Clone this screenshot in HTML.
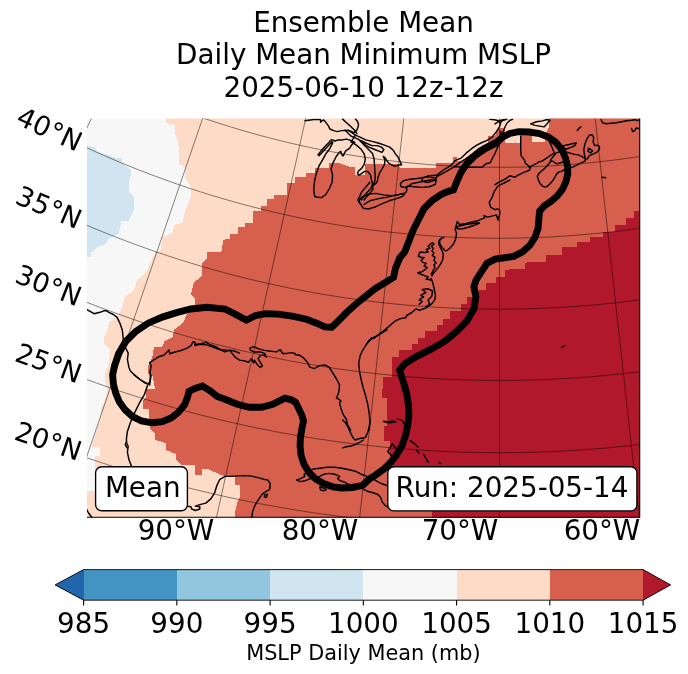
<!DOCTYPE html>
<html lang="en"><head><meta charset="utf-8"><title>Ensemble Mean - Daily Mean Minimum MSLP</title>
<style>html,body{margin:0;padding:0;background:#fff}body{width:688px;height:674px;overflow:hidden}svg{display:block;will-change:transform}text{font-family:"DejaVu Sans","Liberation Sans",sans-serif;fill:#000}</style></head><body>
<svg width="688" height="674" viewBox="0 0 688 674">
<rect width="688" height="674" fill="#fff"/>
<defs><clipPath id="mapclip"><rect x="87.0" y="118.5" width="553.0" height="399.0"/></clipPath></defs>
<g clip-path="url(#mapclip)">
<rect x="87.0" y="118.5" width="553.0" height="399.0" fill="#f7f7f7"/>
<path d="M85.0 144.7 L95.2 147.6 L97.2 151.6 L117.6 158.4 L122.1 158.4 L122.1 162.8 L130.6 169.9 L130.6 176.0 L128.8 182.2 L128.8 191.3 L134.3 196.4 L133.6 202.5 L133.6 210.6 L128.8 220.8 L121.6 220.8 L118.6 234.0 L109.4 238.1 L105.3 244.2 L97.2 247.3 L93.1 252.0 L90.9 252.0 L90.9 256.6 L87.0 256.8 L85.0 256.8 Z" fill="#d1e5f0" shape-rendering="crispEdges"/>
<path d="M165.4 113.5 L165.9 118.5 L165.9 123.1 L175.0 125.2 L175.0 133.3 L178.1 141.5 L178.9 150.6 L178.9 163.8 L184.5 166.9 L184.5 176.0 L190.8 187.2 L190.8 196.4 L187.8 204.5 L184.7 212.7 L182.7 222.8 L174.5 224.9 L172.5 233.0 L162.3 237.1 L160.3 252.0 L155.2 252.0 L150.1 264.2 L146.0 272.3 L136.9 280.5 L133.8 289.6 L124.7 297.8 L121.6 308.0 L118.6 315.1 L109.4 322.2 L107.4 329.3 L103.8 337.5 L103.8 343.6 L110.4 349.7 L108.4 366.0 L104.8 374.1 L104.8 382.2 L107.4 388.9 L107.4 389.0 L105.0 400.0 L101.2 408.0 L101.2 415.0 L99.0 422.0 L97.0 429.0 L94.5 438.0 L92.2 444.5 L92.2 447.0 L99.6 447.0 L99.6 456.0 L94.8 456.0 L94.8 491.0 L80.0 491.0 L82.0 522.5 L645.0 522.5 L645.0 113.5 Z" fill="#fddbc7" shape-rendering="crispEdges"/>
<path d="M234.7 519.2 L234.7 513.1 L237.2 503.0 L240.3 496.8 L240.3 485.1 L234.5 485.1 L234.5 476.5 L225.0 476.5 L225.0 476.5 L207.1 468.9 L201.5 468.9 L201.5 475.0 L195.4 475.0 L195.4 464.8 L181.7 464.8 L176.1 459.2 L176.1 454.1 L165.9 450.0 L165.9 442.9 L154.7 439.9 L154.7 432.8 L149.6 427.7 L148.8 416.5 L148.8 408.8 L143.0 408.8 L143.0 401.2 L146.0 397.1 L146.0 389.0 L155.2 389.0 L152.2 374.1 L148.1 374.1 L148.1 366.0 L152.2 357.8 L154.2 346.6 L162.3 346.6 L164.4 341.5 L172.5 337.5 L174.5 329.3 L182.7 323.2 L186.7 315.1 L195.4 305.3 L195.4 298.8 L190.8 294.7 L193.9 282.5 L201.5 276.4 L201.5 264.2 L207.1 258.1 L207.1 252.0 L221.3 252.0 L223.4 240.1 L225.0 240.1 L225.0 239.1 L229.6 239.1 L229.6 233.5 L237.7 233.5 L237.7 227.4 L245.3 227.4 L245.3 223.4 L253.0 223.4 L253.0 211.1 L261.1 211.1 L261.1 206.1 L267.2 206.1 L267.2 199.4 L274.3 199.4 L274.3 194.9 L286.6 194.9 L286.6 183.2 L294.7 183.2 L294.7 177.1 L306.4 177.1 L306.4 173.0 L315.0 173.0 L315.0 167.9 L329.3 167.9 L329.3 163.3 L339.0 163.3 L351.2 167.4 L355.2 167.4 L355.2 174.5 L359.3 174.8 L365.0 174.8 L365.0 164.3 L397.6 164.3 L399.6 167.6 L435.7 167.6 L435.7 162.5 L452.7 162.5 L452.7 156.7 L456.8 156.7 L456.8 160.8 L461.7 160.8 L474.9 151.1 L482.0 151.1 L482.0 145.0 L488.1 145.0 L488.1 135.9 L495.2 135.9 L497.3 129.2 L505.0 127.2 L505.0 143.1 L520.3 143.1 L520.3 135.3 L531.5 135.3 L531.5 141.5 L544.7 141.5 L544.7 135.3 L548.8 127.2 L548.8 118.5 L548.8 114.2 L645.0 114.2 L645.0 522.5 L234.2 522.5 Z" fill="#d6604d" shape-rendering="crispEdges"/>
<path d="M432.2 519.2 L432.2 511.1 L390.4 511.1 L389.9 462.3 L389.9 441.4 L384.3 441.4 L384.3 426.1 L386.9 426.1 L386.9 397.6 L382.3 397.6 L382.3 389.0 L383.3 388.9 L383.3 376.6 L392.0 376.6 L392.0 357.3 L399.1 357.3 L399.1 350.2 L412.3 350.2 L412.3 343.6 L418.4 343.6 L418.4 337.5 L424.5 337.5 L424.5 330.9 L436.7 330.9 L436.7 324.7 L443.3 324.7 L443.3 318.6 L450.0 318.6 L450.0 311.5 L456.6 310.8 L461.1 310.8 L461.1 304.4 L467.3 304.4 L467.3 297.3 L471.8 297.3 L479.0 290.2 L485.6 290.2 L485.6 283.0 L495.7 283.0 L495.7 276.9 L505.0 276.9 L505.0 270.3 L508.1 270.3 L509.1 268.8 L524.8 268.8 L524.8 262.7 L535.5 261.9 L546.2 261.9 L546.2 254.5 L561.5 254.5 L561.5 252.0 L562.0 251.9 L562.0 247.1 L576.7 247.1 L576.7 241.7 L590.0 241.7 L590.0 236.8 L603.2 236.8 L603.2 231.5 L615.4 231.5 L615.4 225.4 L625.6 225.4 L625.6 218.3 L633.7 218.3 L633.7 210.6 L645.0 210.6 L645.0 522.5 Z" fill="#b2182b" shape-rendering="crispEdges"/>
<g fill="none" stroke="#000" stroke-width="1.45" stroke-linejoin="round" stroke-linecap="round">
<path d="M305.0 120.7 L310.2 120.0 L315.4 119.4 L318.5 119.4 L320.6 119.7 L320.6 122.3 L322.1 120.7 L323.7 120.0 L325.8 122.3 L328.4 125.9 L329.9 129.0 L333.6 130.6 L337.2 131.6 L341.4 130.6 L346.5 130.4 L350.7 131.1 L353.8 132.7 L356.4 130.6 L358.0 127.5 L358.5 124.3 L357.4 121.2 L355.4 118.9"/>
<path d="M342.4 118.9 L346.5 122.8 L350.7 126.4 L354.9 130.6 L356.9 133.7"/>
<path d="M354.9 142.5 L350.7 140.4 L346.5 139.1 L342.4 139.9 L338.2 139.9 L335.1 141.0 L332.5 139.9 L331.0 139.9 L328.9 142.5 L324.7 146.7 L320.6 151.4 L318.0 155.0 L319.0 155.7 L321.6 152.9 L325.8 148.4 L329.9 144.1 L331.8 141.8 L332.8 142.2 L331.5 145.1 L329.4 149.3 L325.8 153.9 L322.7 159.7 L319.0 165.9 L316.4 173.2 L314.9 179.4 L314.1 185.0 L313.8 190.8 L314.7 196.5 L316.9 197.0 L321.4 197.6 L325.8 194.5 L329.4 188.5 L332.2 182.0 L332.5 174.7 L331.0 169.0 L333.0 162.8 L336.2 156.5 L337.7 154.5 L339.3 152.4 L340.8 151.4 L341.4 153.9 L342.9 156.0 L343.9 154.5 L345.0 151.9 L346.5 150.3 L349.7 148.2 L350.7 146.2 L352.3 144.1 Z"/>
<path d="M351.2 141.9 L356.4 145.1 L360.6 148.7 L364.2 153.9 L365.3 159.1 L364.2 164.3 L361.6 168.4 L358.5 171.0 L357.5 173.6 L359.0 175.2 L361.6 173.6 L364.2 171.5 L367.8 171.5 L370.4 174.7 L371.5 179.9 L372.5 184.0 L371.0 188.2 L367.3 192.3 L363.7 196.5 L361.6 200.0"/>
<path d="M345.0 130.0 L351.2 136.2 L358.5 139.3 L362.7 143.5 L367.8 148.7 L372.5 153.4 L374.1 159.1 L374.6 166.4 L375.1 174.7 L375.1 179.9 L374.1 183.0 L372.5 185.0"/>
<path d="M383.4 156.5 L385.0 160.1 L384.5 164.3 L382.4 168.4 L379.8 172.6 L378.2 176.7 L377.2 181.9 L374.1 185.0 L372.5 185.0 L373.0 189.2 L369.9 193.4 L365.8 197.5 L364.2 200.0"/>
<path d="M355.4 135.2 L360.6 137.3 L365.8 139.9 L372.0 141.4 L378.2 143.0 L384.5 145.1 L389.7 147.1 L393.3 150.3 L395.4 153.9 L398.0 157.0 L400.0 161.2 L401.6 164.8 L398.0 165.3 L394.9 166.4 L391.7 164.8 L388.6 163.2 L386.5 160.1 L385.0 157.5 L383.4 156.5"/>
<path d="M360.6 140.4 L365.8 143.0 L372.0 145.6 L377.2 145.6 L381.4 147.1 L383.9 149.7 L381.9 152.3 L378.2 150.8 L374.1 149.2 L368.9 147.1 L364.7 144.5 Z"/>
<path d="M351.2 141.9 L355.4 135.2 L351.2 132.1 L348.1 130.0"/>
<path d="M360.9 204.5 L358.7 201.5 L361.7 197.1 L368.4 194.1 L375.8 193.4 L383.2 194.9 L391.4 195.6 L398.0 194.9 L403.2 193.4 L404.3 194.4 L402.5 196.4 L396.5 198.6 L389.1 200.8 L381.7 203.8 L375.8 206.7 L368.4 209.0 L363.2 208.2 Z"/>
<path d="M363.9 204.5 L369.8 200.8 L378.7 198.6 L387.6 197.1 L399.5 194.4 L404.0 193.8 L406.2 191.9 L406.9 189.7 L406.2 188.2 L411.4 183.7 L418.8 182.3 L426.2 180.8 L433.6 179.3"/>
<path d="M401.0 186.7 L400.3 183.7 L403.2 180.8 L409.9 179.3 L417.3 178.5 L424.7 177.1 L430.7 177.1 L435.1 177.8 L436.3 180.0 L435.1 184.5 L429.2 186.7 L421.8 187.4 L414.3 186.7 L407.7 186.0 L405.4 187.4 Z"/>
<path d="M360.9 204.5 L358.0 200.1 L361.7 191.9 L366.1 186.7 L369.8 182.3"/>
<path d="M436.9 175.1 L443.6 169.9 L451.0 165.4 L455.0 160.7 L461.2 158.1 L466.4 152.9 L471.6 148.7 L476.8 145.1 L482.0 142.5 L487.2 140.4 L492.4 136.8 L496.5 131.6 L499.7 126.4 L500.7 122.8 L498.6 120.7 L494.5 119.7 L489.8 119.4"/>
<path d="M436.9 176.6 L445.1 172.1 L454.0 166.8 L461.4 161.6 L465.8 158.8 L471.8 154.3 L479.2 148.4 L485.9 144.7 L492.0 141.5 L497.0 139.0 L500.7 136.8 L502.8 132.7 L504.8 127.5 L506.9 123.3 L510.0 120.2 L512.6 119.4"/>
<path d="M499.7 122.8 L503.3 120.2 L505.9 119.4"/>
<path d="M454.0 166.9 L470.3 167.2 L482.2 167.2 L485.9 163.7 L490.3 162.8 L492.5 158.0 L494.8 153.9 L497.0 148.4 L500.0 143.2 L501.4 137.3 L500.7 131.3"/>
<path d="M422.8 178.1 L428.7 175.8 L436.9 175.1 L436.9 176.6 L434.7 180.3 L427.3 182.5 L421.3 181.0 Z"/>
<path d="M583.8 149.3 L584.9 144.1 L586.9 138.9 L589.5 135.2 L592.1 134.7 L593.7 137.3 L593.2 142.0 L594.7 145.6 L597.3 145.1 L599.4 146.7 L599.4 149.3 L597.3 151.9 L593.7 153.9 L590.6 155.0 L588.5 156.5 L587.5 159.1 L585.4 158.6 L584.3 154.5 Z"/>
<path d="M588.5 148.2 L592.7 150.8 L590.6 152.9 L588.0 151.4 Z"/>
<path d="M530.6 123.9 L536.5 121.7 L542.5 120.9 L546.9 119.5 L549.9 120.2 L546.9 123.9 L544.0 126.9 L539.5 126.1 L535.1 125.4 Z"/>
<path d="M495.0 123.9 L500.9 120.2 L506.9 119.2"/>
<path d="M577.3 130.6 L578.8 128.4 L581.1 126.9"/>
<path d="M601.0 119.7 L602.5 122.8 L606.2 123.8 L611.3 123.3 L616.5 122.8 L621.7 121.7 L626.9 120.7 L631.6 120.2 L635.2 119.7 L637.3 120.7 L639.4 119.7"/>
<path d="M631.6 128.5 L632.6 131.6 L634.7 130.6 L636.3 128.0 L638.3 128.5"/>
<path d="M602.2 177.3 L605.7 177.7"/>
<path d="M510.0 180.0 L504.0 183.0 L498.1 185.9 L494.4 191.1 L492.2 197.1 L489.2 202.3 L490.7 207.4 L495.1 209.7 L497.3 208.9 L499.6 209.7 L499.9 213.4 L498.8 217.1 L498.1 220.1 L497.3 217.8 L496.3 214.9 L493.6 215.6 L490.7 216.4 L487.7 217.1 L484.0 215.6 L484.7 217.8 L481.0 219.3 L477.3 220.8 L471.4 222.3 L465.4 223.8 L459.5 224.5 L457.3 221.5 L456.5 224.5 L455.1 229.0 L456.5 233.4 L455.8 238.6 L453.6 243.8 L449.9 248.2 L446.9 250.5"/>
<path d="M459.5 226.0 L465.4 224.5 L471.4 223.8 L477.3 222.7 L479.5 223.0 L474.3 225.3 L468.4 227.2 L462.5 228.7 L458.0 229.0 L455.8 227.5 Z"/>
<path d="M365.8 345.0 L369.5 340.0 L371.7 337.7 L373.9 338.5 L379.1 334.0 L385.1 329.6 L389.5 325.9 L395.4 320.7 L401.4 318.4 L405.8 317.7 L406.6 315.5 L411.8 312.5 L416.2 308.8 L419.2 310.3 L423.6 308.8 L427.3 307.3 L431.8 303.6 L434.8 299.9 L435.5 295.4 L434.0 288.0 L432.5 282.1 L431.1 278.4"/>
<path d="M419.2 304.3 L422.2 301.4 L419.2 299.9 L423.6 296.9 L420.7 295.4 L425.9 292.5 L422.2 289.5 L428.1 288.8 L432.5 291.0 L431.8 296.2 L428.1 299.9 L429.6 304.3 L425.9 306.6"/>
<path d="M387.0 330.0 L379.6 334.5 L372.2 338.2 L367.7 342.6 L363.2 349.3 L360.3 355.2 L358.8 362.6 L359.5 371.5 L361.0 379.0 L363.2 387.9 L365.5 395.3 L367.7 404.2 L369.2 413.1 L369.9 422.0 L369.2 430.0"/>
<path d="M295.0 354.5 L299.5 355.2 L303.9 358.2 L307.6 362.6 L309.8 367.1 L314.3 368.6 L319.5 365.6 L324.7 364.9 L329.1 367.1 L332.8 373.0 L336.5 379.0 L339.5 384.9 L338.8 392.3 L336.5 398.2 L339.5 399.7 L341.0 401.2 L339.5 402.7 L341.0 408.6 L343.2 414.6 L346.2 419.0 L347.7 425.0 L350.6 430.0"/>
<path d="M342.7 420.0 L345.6 423.0 L348.6 428.2 L350.8 433.4 L353.1 437.8 L355.3 440.0 L359.7 438.5 L364.2 437.8 L365.7 437.1 L367.9 431.9 L369.4 425.9 L370.1 420.0"/>
<path d="M363.4 440.0 L359.7 442.3 L355.3 444.5 L350.8 446.0 L346.4 446.7 L342.7 447.9"/>
<path d="M296.7 480.1 L300.4 478.6 L304.8 476.4 L304.1 474.2 L307.8 471.2 L313.7 469.0 L319.7 468.2 L327.1 467.2 L334.5 467.2 L341.9 468.2 L349.3 469.7 L355.3 471.2 L361.2 474.2 L367.2 476.4 L371.6 477.9 L377.5 481.6 L382.0 483.8 L386.4 485.3 L393.9 487.5"/>
<path d="M296.7 480.1 L300.4 481.6 L304.8 480.8 L308.5 479.3 L313.7 477.9 L319.7 476.4 L324.1 474.2 L328.6 473.4 L334.5 474.2 L339.7 476.4 L337.5 478.6 L340.4 480.8 L344.9 482.3 L347.1 483.8 L353.8 486.0 L361.2 488.2 L367.2 491.2 L373.1 492.7 L377.5 494.2 L380.5 497.2 L382.0 501.6 L385.0 505.3 L388.7 507.5 L393.9 509.0"/>
<path d="M319.7 486.8 L324.1 488.2 L326.4 489.7 L323.4 490.9 L320.4 489.7 Z"/>
<path d="M383.4 421.4 L387.8 422.8 L392.3 420.6 L396.0 422.1"/>
<path d="M397.4 419.1 L401.2 419.9 L403.4 422.1 L404.9 425.1"/>
<path d="M387.8 451.8 L392.3 443.6 L397.4 450.3 L393.7 457.7 Z"/>
<path d="M410.1 440.6 L414.5 443.6 L418.2 447.3"/>
<path d="M416.7 450.3 L419.0 453.2"/>
<path d="M423.4 454.0 L427.1 460.7 L428.6 462.2"/>
<path d="M439.0 462.2 L440.5 463.6"/>
<path d="M384.0 421.2 L390.0 422.7 L395.0 422.0"/>
<path d="M195.0 344.5 L200.9 343.7 L206.1 342.3 L209.8 344.5 L215.8 346.7 L220.2 349.7 L224.7 351.9 L229.9 350.4 L232.1 353.4 L235.1 357.1 L239.5 360.1 L244.0 360.8 L248.4 362.3 L251.4 358.6 L253.6 363.0 L254.3 360.1 L257.3 364.5 L260.3 367.5 L262.5 366.0 L260.3 362.3 L258.1 358.6 L260.3 355.6 L264.0 354.9 L266.2 357.1 L264.7 353.4 L260.3 351.9 L254.3 351.9 L250.6 350.4 L249.9 348.2 L253.6 346.7 L258.8 348.9 L264.7 350.4 L270.7 351.2 L276.6 351.9 L280.3 349.7 L282.5 353.4 L287.0 353.4 L291.4 352.6 L295.0 353.4"/>
<path d="M86.6 309.3 L94.1 313.7 L100.0 312.3 L103.7 310.8 L106.7 310.8 L108.9 312.3 L113.4 314.5 L117.1 317.4 L120.0 323.4 L122.3 330.1 L123.0 336.0 L123.7 343.4 L126.0 348.6 L128.2 353.1 L127.4 359.7 L128.9 367.2 L130.4 370.9 L134.1 374.6 L139.3 379.0 L144.5 382.7 L149.0 384.2"/>
<path d="M149.7 385.0 L150.4 379.0 L150.1 371.6 L151.2 365.7 L149.7 362.7 L154.2 359.7 L158.6 356.8 L163.8 355.3 L169.0 350.1 L169.7 353.8 L174.2 352.3 L180.1 350.8 L186.1 348.6 L191.2 345.6 L192.7 341.9 L195.0 341.9 L195.0 345.6 L200.0 344.2 L206.8 344.9 L212.8 347.1 L218.7 349.3 L226.1 350.1 L233.5 350.8 L239.5 353.1"/>
<path d="M134.1 375.0 L140.1 379.5 L147.5 383.9 L149.7 382.4 L151.2 375.0"/>
<path d="M147.5 385.4 L144.5 394.3 L139.3 403.2 L134.9 412.1 L130.4 422.5 L127.4 431.4 L126.4 438.8 L126.7 443.2 L128.2 446.2 L127.4 452.2 L128.9 459.6 L131.2 465.5 L134.1 475.9 L138.6 484.8 L144.5 492.2 L151.9 498.1 L162.3 502.6 L174.2 505.3 L186.9 506.0"/>
<path d="M126.4 441.8 L125.2 444.7 L127.0 447.7"/>
<path d="M187.2 506.1 L190.9 506.8 L191.7 509.0 L195.4 510.5 L199.8 509.0 L199.8 506.8 L195.4 506.1 L199.8 504.6 L205.8 503.1 L211.0 498.6 L214.7 492.7 L216.9 485.3 L219.9 479.3 L225.1 476.4 L234.0 476.1 L244.3 475.6 L251.8 476.1 L259.2 477.9 L263.6 479.3 L268.1 480.1 L270.3 483.8 L269.6 489.7 L266.6 491.2 L262.2 494.2 L259.2 498.6 L256.2 503.1 L254.0 507.5 L252.5 512.0 L251.8 517.9"/>
<path d="M264.4 494.9 L267.3 494.2 L266.6 497.2 L264.4 497.4 Z"/>
<path d="M561.5 347.5 L564.8 345.5"/>
<path d="M86.0 508.0 L88.5 513.0 L92.0 517.5"/>
<path d="M495.0 184.7 L499.5 181.8 L505.4 178.8 L509.8 175.8 L515.0 177.2 L518.1 175.2 L521.2 173.6 L524.3 172.1 L527.5 171.0 L529.5 170.0 L530.6 167.9 L529.5 167.4 L528.0 165.3 L525.4 163.2 L524.3 159.6 L521.2 156.0 L520.7 149.7 L520.7 142.5 L520.7 136.2"/>
<path d="M529.5 166.9 L533.7 164.8 L537.3 163.2 L538.9 161.7 L542.0 161.2 L545.1 159.1 L548.2 157.0 L551.3 154.9 L553.9 153.4 L555.0 154.4 L552.9 157.0 L550.8 159.6 L550.3 161.2 L552.9 161.2 L555.5 163.2 L557.6 163.7 L560.7 162.7 L563.8 161.7"/>
<path d="M550.8 161.2 L547.2 165.8 L544.1 168.9 L541.0 171.5 L538.4 174.1 L537.3 176.7 L538.4 179.8 L539.9 183.5 L542.5 186.1 L545.1 187.1 L547.7 186.1 L550.3 183.5 L552.9 180.4 L555.0 177.2 L556.5 174.1 L558.6 172.1 L561.2 171.5 L563.8 170.0 L568.0 168.5 L573.2 166.9 L577.3 164.8 L581.5 162.7 L585.0 161.2 L585.4 158.6"/>
<path d="M555.0 154.4 L553.4 150.8 L551.9 147.1 L550.8 144.5 L549.4 141.5 L547.2 138.8 L548.5 136.5 L546.5 135.5"/>
<path d="M563.8 145.6 L569.0 144.5 L573.2 143.5 L576.3 143.0 L574.7 145.6 L571.6 147.1 L568.5 148.2 L565.9 149.2 L563.8 148.2 Z"/>
<path d="M555.5 153.4 L560.0 151.5 L566.9 152.3 L571.1 153.4 L574.7 154.4 L578.3 154.9 L582.0 156.5 L584.3 158.1"/>
<path d="M445.9 251.0 L443.8 249.4 L441.2 246.3 L439.7 243.2 L439.7 240.1 L441.7 238.0 L443.8 237.5"/>
<path d="M441.7 238.0 L439.1 240.6 L438.6 243.7 L440.2 247.3 L442.3 251.0 L443.3 254.6 L442.8 259.3 L440.7 263.9 L438.1 267.6 L435.5 270.7 L432.9 273.8 L431.9 275.9 L431.4 273.8 L432.9 270.7 L435.0 267.6 L433.9 265.0 L436.0 262.9 L433.9 260.3 L435.0 257.2 L432.4 255.6 L433.9 253.0 L431.9 251.0 L433.4 248.4 L431.4 246.3 L433.9 244.2 L432.9 242.7 L430.8 243.7 L428.2 246.3 L429.8 248.4 L426.2 249.4 L428.2 252.0 L424.6 252.5 L419.9 252.0 L418.4 256.2 L421.0 257.2 L424.1 257.7 L421.0 260.3 L423.0 262.4 L426.2 263.4 L424.1 266.0 L427.2 267.6 L425.1 269.7 L422.0 271.7 L417.8 272.8 L421.0 274.3 L425.1 275.9 L428.2 276.9 L426.2 279.0 L430.3 280.0 L431.6 279.5"/>
</g>
<g fill="none" stroke="#000" stroke-opacity="0.5" stroke-width="0.95">
<path d="M96.6 -91.1 L-247.4 469.6"/>
<path d="M171.1 -50.8 L-109.2 544.3"/>
<path d="M249.7 -19.0 L36.5 603.3"/>
<path d="M331.3 4.0 L187.7 646.0"/>
<path d="M414.9 18.0 L342.6 671.8"/>
<path d="M499.5 22.6 L499.5 680.4"/>
<path d="M584.1 18.0 L656.4 671.8"/>
<path d="M667.7 4.0 L811.3 646.0"/>
<path d="M-268.7 362.3 L-256.4 370.7 L-244.0 378.9 L-231.6 387.1 L-219.1 395.0 L-206.4 402.9 L-193.7 410.6 L-180.9 418.1 L-168.1 425.5 L-155.1 432.8 L-142.1 440.0 L-129.0 446.9 L-115.8 453.8 L-102.5 460.5 L-89.2 467.0 L-75.8 473.4 L-62.3 479.7 L-48.8 485.8 L-35.2 491.8 L-21.5 497.6 L-7.7 503.2 L6.1 508.7 L19.9 514.1 L33.8 519.3 L47.8 524.3 L61.8 529.2 L75.9 534.0 L90.0 538.6 L104.2 543.0 L118.5 547.2 L132.7 551.4 L147.1 555.3 L161.4 559.1 L175.8 562.8 L190.3 566.2 L204.7 569.6 L219.3 572.7 L233.8 575.7 L248.4 578.6 L263.0 581.3 L277.7 583.8 L292.3 586.1 L307.0 588.3 L321.7 590.4 L336.5 592.3 L351.2 594.0 L366.0 595.5 L380.8 596.9 L395.6 598.1 L410.4 599.2 L425.3 600.1 L440.1 600.8 L454.9 601.4 L469.8 601.8 L484.6 602.1 L499.5 602.1 L514.4 602.1 L529.2 601.8 L544.1 601.4 L558.9 600.8 L573.7 600.1 L588.6 599.2 L603.4 598.1 L618.2 596.9 L633.0 595.5 L647.8 594.0 L662.5 592.3 L677.3 590.4 L692.0 588.3 L706.7 586.1 L721.3 583.8 L736.0 581.3 L750.6 578.6 L765.2 575.7 L779.7 572.7 L794.3 569.6 L808.7 566.2 L823.2 562.8 L837.6 559.1 L851.9 555.3 L866.3 551.4 L880.5 547.2 L894.8 543.0 L909.0 538.6 L923.1 534.0 L937.2 529.2"/>
<path d="M-225.6 300.0 L-214.0 308.0 L-202.3 315.7 L-190.6 323.4 L-178.8 330.9 L-166.9 338.3 L-154.9 345.6 L-142.8 352.7 L-130.6 359.7 L-118.4 366.6 L-106.1 373.3 L-93.7 379.9 L-81.3 386.4 L-68.8 392.7 L-56.2 398.9 L-43.5 404.9 L-30.8 410.8 L-18.0 416.6 L-5.2 422.2 L7.7 427.7 L20.7 433.1 L33.7 438.3 L46.8 443.3 L59.9 448.2 L73.1 453.0 L86.4 457.6 L99.7 462.1 L113.0 466.4 L126.4 470.6 L139.8 474.6 L153.3 478.5 L166.8 482.2 L180.4 485.8 L194.0 489.3 L207.6 492.5 L221.3 495.7 L235.0 498.7 L248.7 501.5 L262.5 504.2 L276.3 506.7 L290.1 509.1 L303.9 511.3 L317.8 513.4 L331.7 515.3 L345.6 517.1 L359.5 518.7 L373.5 520.2 L387.5 521.5 L401.4 522.6 L415.4 523.6 L429.4 524.5 L443.4 525.2 L457.4 525.7 L471.5 526.1 L485.5 526.3 L499.5 526.4 L513.5 526.3 L527.5 526.1 L541.6 525.7 L555.6 525.2 L569.6 524.5 L583.6 523.6 L597.6 522.6 L611.5 521.5 L625.5 520.2 L639.5 518.7 L653.4 517.1 L667.3 515.3 L681.2 513.4 L695.1 511.3 L708.9 509.1 L722.7 506.7 L736.5 504.2 L750.3 501.5 L764.0 498.7 L777.7 495.7 L791.4 492.5 L805.0 489.3 L818.6 485.8 L832.2 482.2 L845.7 478.5 L859.2 474.6 L872.6 470.6 L886.0 466.4 L899.3 462.1 L912.6 457.6"/>
<path d="M-183.7 239.4 L-172.7 246.9 L-161.8 254.2 L-150.7 261.4 L-139.5 268.5 L-128.3 275.5 L-117.0 282.3 L-105.6 289.1 L-94.2 295.7 L-82.7 302.1 L-71.1 308.5 L-59.4 314.7 L-47.7 320.8 L-35.9 326.7 L-24.0 332.6 L-12.1 338.3 L-0.1 343.8 L11.9 349.2 L24.0 354.5 L36.2 359.7 L48.4 364.7 L60.7 369.6 L73.0 374.4 L85.4 379.0 L97.8 383.5 L110.3 387.9 L122.8 392.1 L135.4 396.2 L148.0 400.1 L160.6 403.9 L173.3 407.6 L186.1 411.1 L198.8 414.5 L211.6 417.7 L224.5 420.8 L237.4 423.7 L250.3 426.6 L263.2 429.2 L276.2 431.8 L289.2 434.1 L302.2 436.4 L315.2 438.5 L328.3 440.4 L341.4 442.3 L354.5 443.9 L367.6 445.4 L380.8 446.8 L393.9 448.1 L407.1 449.1 L420.3 450.1 L433.5 450.9 L446.7 451.5 L459.9 452.1 L473.1 452.4 L486.3 452.6 L499.5 452.7 L512.7 452.6 L525.9 452.4 L539.1 452.1 L552.3 451.5 L565.5 450.9 L578.7 450.1 L591.9 449.1 L605.1 448.1 L618.2 446.8 L631.4 445.4 L644.5 443.9 L657.6 442.3 L670.7 440.4 L683.8 438.5 L696.8 436.4 L709.8 434.1 L722.8 431.8 L735.8 429.2 L748.7 426.6 L761.6 423.7 L774.5 420.8 L787.4 417.7 L800.2 414.5 L812.9 411.1 L825.7 407.6 L838.4 403.9 L851.0 400.1 L863.6 396.2 L876.2 392.1 L888.7 387.9"/>
<path d="M-142.5 180.0 L-132.3 187.0 L-122.0 193.9 L-111.6 200.7 L-101.1 207.4 L-90.5 213.9 L-79.9 220.3 L-69.2 226.7 L-58.5 232.9 L-47.6 238.9 L-36.7 244.9 L-25.8 250.7 L-14.8 256.5 L-3.7 262.1 L7.5 267.5 L18.7 272.9 L29.9 278.1 L41.3 283.2 L52.6 288.2 L64.1 293.1 L75.5 297.8 L87.1 302.4 L98.7 306.9 L110.3 311.2 L122.0 315.4 L133.7 319.5 L145.5 323.5 L157.3 327.3 L169.1 331.0 L181.0 334.6 L193.0 338.0 L204.9 341.3 L216.9 344.5 L229.0 347.5 L241.0 350.5 L253.1 353.2 L265.3 355.9 L277.4 358.4 L289.6 360.8 L301.8 363.0 L314.1 365.1 L326.3 367.1 L338.6 368.9 L350.9 370.6 L363.2 372.2 L375.6 373.6 L387.9 374.9 L400.3 376.1 L412.7 377.1 L425.0 378.0 L437.4 378.7 L449.8 379.4 L462.3 379.8 L474.7 380.2 L487.1 380.4 L499.5 380.5 L511.9 380.4 L524.3 380.2 L536.7 379.8 L549.2 379.4 L561.6 378.7 L574.0 378.0 L586.3 377.1 L598.7 376.1 L611.1 374.9 L623.4 373.6 L635.8 372.2 L648.1 370.6 L660.4 368.9 L672.7 367.1 L684.9 365.1 L697.2 363.0 L709.4 360.8 L721.6 358.4 L733.7 355.9 L745.9 353.2 L758.0 350.5 L770.0 347.5 L782.1 344.5 L794.1 341.3 L806.0 338.0 L818.0 334.6 L829.9 331.0 L841.7 327.3 L853.5 323.5 L865.3 319.5"/>
<path d="M-102.0 121.4 L-92.4 127.9 L-82.7 134.4 L-72.9 140.7 L-63.1 147.0 L-53.3 153.1 L-43.3 159.2 L-33.3 165.1 L-23.2 170.9 L-13.1 176.6 L-2.9 182.2 L7.4 187.6 L17.7 193.0 L28.1 198.2 L38.6 203.4 L49.1 208.4 L59.6 213.3 L70.2 218.1 L80.9 222.7 L91.6 227.3 L102.3 231.7 L113.1 236.0 L124.0 240.2 L134.9 244.3 L145.8 248.2 L156.8 252.1 L167.8 255.8 L178.9 259.4 L190.0 262.8 L201.1 266.2 L212.3 269.4 L223.5 272.5 L234.8 275.5 L246.1 278.3 L257.4 281.0 L268.7 283.6 L280.1 286.1 L291.5 288.5 L302.9 290.7 L314.3 292.8 L325.8 294.8 L337.3 296.6 L348.8 298.3 L360.3 299.9 L371.8 301.4 L383.4 302.8 L395.0 304.0 L406.6 305.1 L418.1 306.0 L429.8 306.8 L441.4 307.5 L453.0 308.1 L464.6 308.6 L476.2 308.9 L487.9 309.1 L499.5 309.1 L511.1 309.1 L522.8 308.9 L534.4 308.6 L546.0 308.1 L557.6 307.5 L569.2 306.8 L580.9 306.0 L592.4 305.1 L604.0 304.0 L615.6 302.8 L627.2 301.4 L638.7 299.9 L650.2 298.3 L661.7 296.6 L673.2 294.8 L684.7 292.8 L696.1 290.7 L707.5 288.5 L718.9 286.1 L730.3 283.6 L741.6 281.0 L752.9 278.3 L764.2 275.5 L775.5 272.5 L786.7 269.4 L797.9 266.2 L809.0 262.8 L820.1 259.4 L831.2 255.8 L842.2 252.1"/>
<path d="M-61.6 63.1 L-52.7 69.2 L-43.7 75.2 L-34.6 81.2 L-25.4 87.0 L-16.2 92.7 L-6.9 98.3 L2.4 103.9 L11.8 109.3 L21.3 114.6 L30.8 119.8 L40.4 124.9 L50.0 129.9 L59.7 134.8 L69.5 139.6 L79.3 144.3 L89.1 148.8 L99.0 153.3 L108.9 157.6 L118.9 161.9 L129.0 166.0 L139.0 170.0 L149.2 173.9 L159.3 177.7 L169.5 181.4 L179.8 185.0 L190.1 188.5 L200.4 191.8 L210.8 195.1 L221.2 198.2 L231.6 201.2 L242.0 204.1 L252.5 206.8 L263.1 209.5 L273.6 212.1 L284.2 214.5 L294.8 216.8 L305.4 219.0 L316.1 221.1 L326.7 223.0 L337.4 224.9 L348.2 226.6 L358.9 228.2 L369.6 229.7 L380.4 231.1 L391.2 232.3 L402.0 233.4 L412.8 234.4 L423.6 235.3 L434.4 236.1 L445.3 236.8 L456.1 237.3 L466.9 237.7 L477.8 238.0 L488.6 238.2 L499.5 238.3 L510.4 238.2 L521.2 238.0 L532.1 237.7 L542.9 237.3 L553.7 236.8 L564.6 236.1 L575.4 235.3 L586.2 234.4 L597.0 233.4 L607.8 232.3 L618.6 231.1 L629.4 229.7 L640.1 228.2 L650.8 226.6 L661.6 224.9 L672.3 223.0 L682.9 221.1 L693.6 219.0 L704.2 216.8 L714.8 214.5 L725.4 212.1 L735.9 209.5 L746.5 206.8 L757.0 204.1 L767.4 201.2 L777.8 198.2 L788.2 195.1 L798.6 191.8 L808.9 188.5 L819.2 185.0"/>
<path d="M-21.3 4.7 L-12.9 10.4 L-4.6 16.0 L3.9 21.5 L12.4 26.9 L20.9 32.2 L29.5 37.4 L38.2 42.5 L46.9 47.6 L55.7 52.5 L64.6 57.3 L73.4 62.1 L82.4 66.7 L91.4 71.3 L100.4 75.7 L109.5 80.0 L118.6 84.3 L127.8 88.4 L137.0 92.5 L146.3 96.4 L155.6 100.2 L165.0 104.0 L174.4 107.6 L183.8 111.1 L193.3 114.5 L202.8 117.9 L212.3 121.1 L221.9 124.2 L231.5 127.2 L241.2 130.1 L250.9 132.9 L260.6 135.6 L270.3 138.1 L280.1 140.6 L289.9 143.0 L299.7 145.2 L309.5 147.4 L319.4 149.4 L329.3 151.3 L339.2 153.1 L349.1 154.8 L359.0 156.4 L369.0 157.9 L379.0 159.3 L389.0 160.6 L399.0 161.7 L409.0 162.8 L419.0 163.7 L429.1 164.6 L439.1 165.3 L449.2 165.9 L459.2 166.4 L469.3 166.8 L479.4 167.1 L489.4 167.2 L499.5 167.3 L509.6 167.2 L519.6 167.1 L529.7 166.8 L539.8 166.4 L549.8 165.9 L559.9 165.3 L569.9 164.6 L580.0 163.7 L590.0 162.8 L600.0 161.7 L610.0 160.6 L620.0 159.3 L630.0 157.9 L640.0 156.4 L649.9 154.8 L659.8 153.1 L669.7 151.3 L679.6 149.4 L689.5 147.4 L699.3 145.2 L709.1 143.0 L718.9 140.6 L728.7 138.1 L738.4 135.6 L748.1 132.9 L757.8 130.1 L767.5 127.2 L777.1 124.2 L786.7 121.1 L796.2 117.9"/>
<path d="M19.5 -54.2 L27.2 -49.0 L34.9 -43.8 L42.7 -38.8 L50.5 -33.8 L58.4 -28.9 L66.3 -24.1 L74.3 -19.4 L82.4 -14.7 L90.5 -10.2 L98.6 -5.7 L106.8 -1.3 L115.0 2.9 L123.3 7.1 L131.7 11.2 L140.0 15.2 L148.5 19.1 L156.9 22.9 L165.4 26.7 L174.0 30.3 L182.6 33.8 L191.2 37.3 L199.8 40.6 L208.5 43.9 L217.3 47.0 L226.0 50.1 L234.8 53.0 L243.7 55.9 L252.5 58.7 L261.4 61.3 L270.3 63.9 L279.3 66.4 L288.3 68.7 L297.3 71.0 L306.3 73.2 L315.3 75.3 L324.4 77.3 L333.5 79.1 L342.6 80.9 L351.7 82.6 L360.9 84.2 L370.0 85.6 L379.2 87.0 L388.4 88.3 L397.6 89.5 L406.9 90.5 L416.1 91.5 L425.3 92.4 L434.6 93.1 L443.8 93.8 L453.1 94.3 L462.4 94.8 L471.7 95.2 L480.9 95.4 L490.2 95.6 L499.5 95.6 L508.8 95.6 L518.1 95.4 L527.3 95.2 L536.6 94.8 L545.9 94.3 L555.2 93.8 L564.4 93.1 L573.7 92.4 L582.9 91.5 L592.1 90.5 L601.4 89.5 L610.6 88.3 L619.8 87.0 L629.0 85.6 L638.1 84.2 L647.3 82.6 L656.4 80.9 L665.5 79.1 L674.6 77.3 L683.7 75.3 L692.7 73.2 L701.7 71.0 L710.7 68.7 L719.7 66.4 L728.7 63.9 L737.6 61.3 L746.5 58.7 L755.3 55.9 L764.2 53.0 L773.0 50.1"/>
</g>
<g fill="none" stroke="#000" stroke-width="6.9" stroke-linejoin="miter">
<path d="M225.0 309.0 L235.2 314.1 L246.4 320.2 L255.5 315.5 L265.7 313.7 L277.9 314.1 L292.2 316.1 L306.4 319.2 L316.6 323.2 L324.7 326.9 L331.8 327.3 L339.0 320.2 L347.1 312.0 L357.3 302.9 L365.0 296.8 L375.2 288.6 L385.3 282.5 L393.5 277.4 L395.5 268.3 L399.6 258.1 L404.7 252.0 L412.8 231.0 L418.9 218.8 L424.0 208.6 L432.2 200.5 L441.3 194.4 L448.4 191.3 L453.5 189.9 L456.6 182.2 L460.6 173.0 L466.7 163.8 L474.9 155.7 L485.1 148.6 L495.2 143.5 L502.4 137.3 L509.8 133.5 L518.7 131.6 L529.1 132.0 L539.5 133.5 L548.4 137.0 L555.8 142.4 L561.8 149.4 L565.5 158.0 L567.7 166.9 L567.7 174.3 L565.9 181.8 L562.5 189.2 L557.3 195.9 L551.4 201.0 L544.0 206.2 L539.6 211.1 L538.8 219.3 L538.1 228.2 L535.1 237.1 L529.9 245.3 L522.5 251.9 L513.6 256.4 L495.2 259.1 L487.1 263.2 L481.0 272.3 L475.9 280.5 L473.9 286.6 L475.9 296.8 L473.9 309.0 L466.7 321.2 L456.6 331.4 L444.4 341.5 L430.1 349.7 L415.9 356.8 L404.7 363.9 L399.6 370.0 L402.6 380.2 L405.7 388.9 L404.1 385.0 L406.8 393.9 L408.3 404.3 L408.9 414.7 L407.8 425.1 L405.6 435.4 L401.9 445.8 L396.7 454.7 L390.8 462.2 L384.1 468.8 L375.9 474.8 L370.0 478.5 L362.7 485.3 L352.3 487.5 L341.9 488.0 L333.0 486.8 L324.1 483.8 L316.0 479.3 L309.3 472.7 L304.1 464.5 L301.1 455.6 L300.1 446.7 L300.4 437.8 L301.9 428.9 L303.5 421.0 L301.7 415.0 L298.7 408.6 L295.7 402.5 L291.4 399.8 L285.0 398.2 L281.0 400.2 L272.8 404.3 L261.6 407.3 L249.4 407.3 L237.2 404.3 L225.0 399.2 L217.3 396.4 L209.8 390.5 L202.4 386.0 L195.0 388.4 L189.0 391.3 L187.5 397.3 L184.6 404.7 L178.6 412.1 L171.2 418.0 L162.3 421.7 L151.9 422.8 L141.5 421.0 L132.6 416.5 L125.2 409.9 L119.3 401.7 L115.6 392.8 L113.4 383.9 L112.6 375.0 L114.5 366.0 L118.6 353.7 L125.7 341.5 L135.9 331.4 L148.1 323.2 L162.3 317.1 L176.6 312.6 L190.8 309.0 L207.1 307.3 Z"/>
</g>
</g>
<path d="M639.7 118.5 L639.7 517.3 L87.0 517.3" fill="none" stroke="#000" stroke-width="1.1"/>
<rect x="95.6" y="466.7" width="91.8" height="44.0" rx="6.0" ry="6.0" fill="#fff" stroke="#000" stroke-width="1.35"/>
<rect x="387.8" y="466.7" width="249.1" height="44.2" rx="6.0" ry="6.0" fill="#fff" stroke="#000" stroke-width="1.35"/>
<text x="104.9" y="496.6" font-size="27.78">Mean</text>
<text x="395.6" y="496.6" font-size="27.78">Run: 2025-05-14</text>
<text x="363.5" y="31.8" font-size="27.78" text-anchor="middle">Ensemble Mean</text>
<text x="363.5" y="64.2" font-size="27.78" text-anchor="middle">Daily Mean Minimum MSLP</text>
<text x="363.5" y="96.6" font-size="27.78" text-anchor="middle">2025-06-10 12z-12z</text>
<text x="176.0" y="540.3" font-size="27.78" text-anchor="middle">90°W</text>
<text x="320.0" y="540.3" font-size="27.78" text-anchor="middle">80°W</text>
<text x="460.0" y="540.3" font-size="27.78" text-anchor="middle">70°W</text>
<text x="602.0" y="540.3" font-size="27.78" text-anchor="middle">60°W</text>
<text transform="translate(76.5 152.0) rotate(24.7)" font-size="27.00" text-anchor="end">40°N</text>
<text transform="translate(76.5 229.3) rotate(23.0)" font-size="27.00" text-anchor="end">35°N</text>
<text transform="translate(76.8 306.7) rotate(21.4)" font-size="27.00" text-anchor="end">30°N</text>
<text transform="translate(77.3 383.8) rotate(20.1)" font-size="27.00" text-anchor="end">25°N</text>
<text transform="translate(77.5 461.0) rotate(18.9)" font-size="27.00" text-anchor="end">20°N</text>
<path d="M85.6 569.6 L83.6 569.6 L55.1 584.9 L83.6 600.2 L85.6 600.2 Z" fill="#2166ac"/>
<path d="M641.1 569.6 L643.1 569.6 L670.6 584.9 L643.1 600.2 L641.1 600.2 Z" fill="#b2182b"/>
<rect x="83.60" y="569.6" width="93.55" height="30.6" fill="#4393c3" shape-rendering="crispEdges"/>
<rect x="176.85" y="569.6" width="93.55" height="30.6" fill="#92c5de" shape-rendering="crispEdges"/>
<rect x="270.10" y="569.6" width="93.55" height="30.6" fill="#d1e5f0" shape-rendering="crispEdges"/>
<rect x="363.35" y="569.6" width="93.55" height="30.6" fill="#f7f7f7" shape-rendering="crispEdges"/>
<rect x="456.60" y="569.6" width="93.55" height="30.6" fill="#fddbc7" shape-rendering="crispEdges"/>
<rect x="549.85" y="569.6" width="93.55" height="30.6" fill="#d6604d" shape-rendering="crispEdges"/>
<path d="M83.6 569.6 L643.1 569.6 L670.6 584.9 L643.1 600.2 L83.6 600.2 L55.1 584.9 Z" fill="none" stroke="#000" stroke-width="0.9" stroke-linejoin="miter"/>
<path d="M83.60 600.2 V605.4" stroke="#000" stroke-width="1.1"/>
<text x="83.60" y="632.5" font-size="27.78" text-anchor="middle">985</text>
<path d="M176.85 600.2 V605.4" stroke="#000" stroke-width="1.1"/>
<text x="176.85" y="632.5" font-size="27.78" text-anchor="middle">990</text>
<path d="M270.10 600.2 V605.4" stroke="#000" stroke-width="1.1"/>
<text x="270.10" y="632.5" font-size="27.78" text-anchor="middle">995</text>
<path d="M363.35 600.2 V605.4" stroke="#000" stroke-width="1.1"/>
<text x="363.35" y="632.5" font-size="27.78" text-anchor="middle">1000</text>
<path d="M456.60 600.2 V605.4" stroke="#000" stroke-width="1.1"/>
<text x="456.60" y="632.5" font-size="27.78" text-anchor="middle">1005</text>
<path d="M549.85 600.2 V605.4" stroke="#000" stroke-width="1.1"/>
<text x="549.85" y="632.5" font-size="27.78" text-anchor="middle">1010</text>
<path d="M643.10 600.2 V605.4" stroke="#000" stroke-width="1.1"/>
<text x="643.10" y="632.5" font-size="27.78" text-anchor="middle">1015</text>
<text x="363.4" y="660.2" font-size="20.83" text-anchor="middle">MSLP Daily Mean (mb)</text>
</svg></body></html>
